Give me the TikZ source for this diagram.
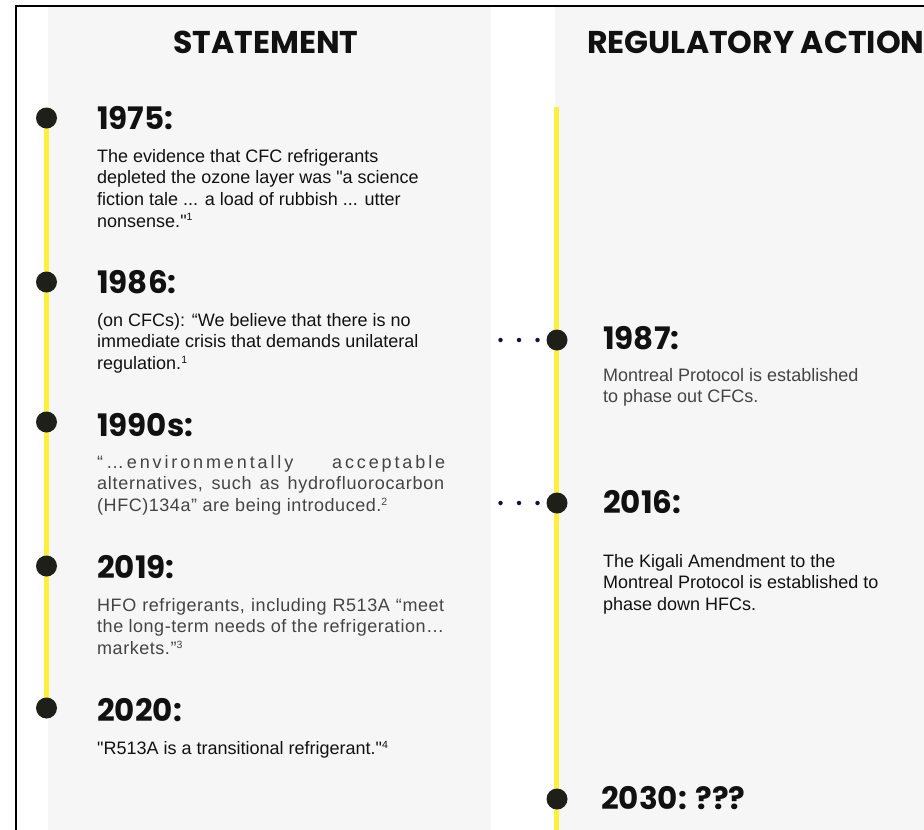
\documentclass[tikz,border=0pt]{standalone}
\usepackage{fontspec}
\setmainfont{Liberation Sans}
\newfontfamily\bodyfont{Liberation Sans}
\newfontfamily\headfont{Poppins}
\usetikzlibrary{backgrounds}
\definecolor{panel}{HTML}{F6F6F6}
\definecolor{ink}{HTML}{111111}
\definecolor{greyink}{HTML}{444444}
\definecolor{dotc}{HTML}{1F1F1A}
\definecolor{lineyellow}{HTML}{FFF03C}
\definecolor{navy}{HTML}{1A0F3C}
\newcommand{\jl}[2]{\makebox[#1][s]{#2}}
\newcommand{\fn}[1]{\raisebox{6.5pt}{\fontsize{10.5}{10.5}\selectfont #1}}
\begin{document}
\begin{tikzpicture}[x=1pt,y=-1pt,
  head/.style={inner sep=0pt, font=\headfont\bfseries\fontsize{31.5}{33}\selectfont, text=ink},
  yr/.style={anchor=west, inner sep=0pt, font=\headfont\bfseries\fontsize{31}{33}\selectfont, text=ink},
  body/.style={anchor=north west, inner sep=0pt, align=left, font=\bodyfont\fontsize{18}{21.7}\selectfont, text=ink},
  greybody/.style={body, text=greyink},
  tdot/.style={circle, fill=dotc, inner sep=0pt, minimum size=21pt},
  ytrack/.style={draw=lineyellow, line width=4.5pt},
  dotline/.style={draw=navy, line width=4.5pt, line cap=round, dash pattern=on 0pt off 18.5pt}]
\useasboundingbox (0,0) rectangle (924,830);
\begin{scope}[on background layer]
  \fill[panel] (48,7) rectangle (491,830);
  \fill[panel] (555,7) rectangle (924,830);
\end{scope}
\draw[line width=2pt, draw=black] (16,830) -- (16,6) -- (924,6);

% headings
\node[head] (hstate) at (266,42) {STATEMENT};
\node[head, anchor=west] (hreg) at (587,42) {REGULATORY ACTION};

% left timeline
\node[tdot] (d1975) at (46.5,118) {};
\node[tdot] (d1986) at (46.5,282) {};
\node[tdot] (d1990) at (46.5,422) {};
\node[tdot] (d2019) at (46.5,566) {};
\node[tdot] (d2020) at (46.5,708) {};

\node[yr] (y1975) at (97,118) {1975:};
\node[body] (t1975) at (97,149) {\rule{0pt}{13pt}The evidence that CFC refrigerants\\
depleted the ozone layer was "a science\\
fiction tale ... a load of rubbish ... utter\\
nonsense."\fn{1}};

\node[yr] (y1986) at (97,282) {1986:};
\node[body] (t1986) at (97,313) {\rule{0pt}{13pt}(on CFCs): “We believe that there is no\\
immediate crisis that demands unilateral\\
regulation.\fn{1}};

\node[yr] (y1990) at (97,425) {1990s:};
\node[greybody] (t1990) at (97,455) {\rule{0pt}{13pt}\jl{348pt}{\addfontfeature{LetterSpace=16}“…environmentally acceptable}\\
\jl{347pt}{\addfontfeature{LetterSpace=4}alternatives, such as hydrofluorocarbon}\\
{\addfontfeature{LetterSpace=3}(HFC)134a” are being introduced.\fn{2}}};

\node[yr] (y2019) at (97,567) {2019:};
\node[greybody] (t2019) at (97,598) {\rule{0pt}{13pt}\jl{347pt}{\addfontfeature{LetterSpace=3}HFO refrigerants, including R513A “meet}\\
\jl{347pt}{\addfontfeature{LetterSpace=3}the long-term needs of the refrigeration…}\\
{\addfontfeature{LetterSpace=3}markets.”\fn{3}}};

\node[yr] (y2020) at (97,710) {2020:};
\node[body] (t2020) at (97,741) {\rule{0pt}{13pt}"R513A is a transitional refrigerant."\fn{4}};

% right timeline
\coordinate (rtop) at (556.5,107);
\coordinate (rbot) at (556.5,830);
\node[tdot] (d1987) at (557,340) {};
\node[tdot] (d2016) at (557,503) {};
\node[tdot] (d2030) at (557,799) {};
\coordinate (c1987) at (500.5,340);
\coordinate (c2016) at (500.5,503);

\node[yr] (y1987) at (603,338) {1987:};
\node[greybody] (t1987) at (603,368) {\rule{0pt}{13pt}Montreal Protocol is established\\
to phase out CFCs.};

\node[yr] (y2016) at (603,502) {2016:};
\node[body] (t2016) at (603,554) {\rule{0pt}{13pt}The Kigali Amendment to the\\
Montreal Protocol is established to\\
phase down HFCs.};

\node[yr] (y2030) at (601,798) {2030: ???};

\begin{scope}[on background layer]
  \draw[ytrack] (d1975.center) -- (d2020.center);
  \draw[ytrack] (rtop) -- (rbot);
  \draw[dotline] (c1987) -- (d1987.center);
  \draw[dotline] (c2016) -- (d2016.center);
\end{scope}
\end{tikzpicture}
\end{document}
